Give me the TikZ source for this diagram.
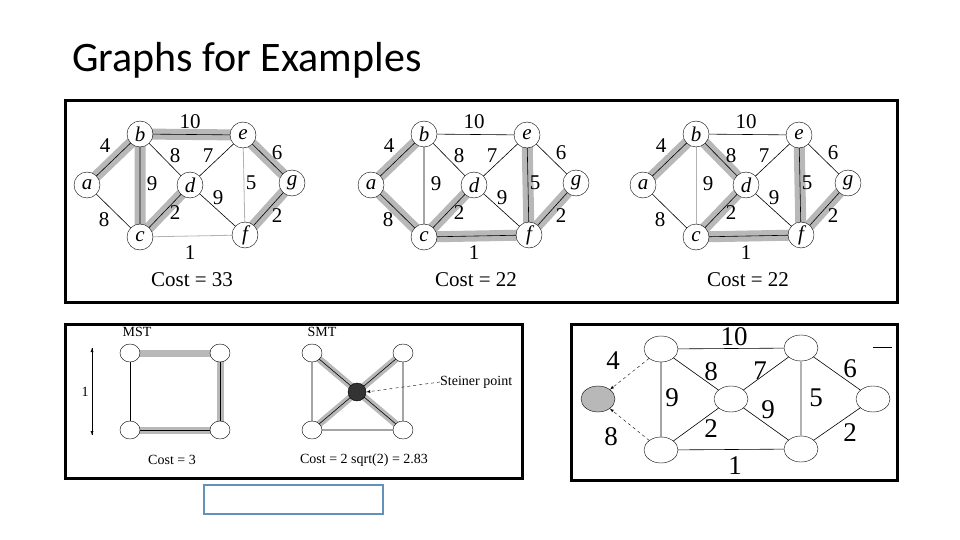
\documentclass[tikz,border=0pt]{standalone}
\usepackage{fontspec}
\usetikzlibrary{shapes.geometric}
\setmainfont{Liberation Serif}
\newfontfamily\titlefont{Carlito}
\begin{document}
\begin{tikzpicture}[x=1pt,y=-1pt,
  vtx/.style={circle,draw,fill=white,inner sep=0pt,minimum size=26pt,font=\fontsize{21}{21}\selectfont\itshape},
  ed/.style={draw,line width=0.6pt},
  lite/.style={draw=black!30,line width=0.8pt},
  hl/.style={draw=black!28,line width=11pt},
  lab/.style={font=\fontsize{21}{21}\selectfont,inner sep=0pt},
  frame/.style={draw,line width=3pt},
  ov/.style={ellipse,draw,fill=white,inner sep=0pt,minimum width=20pt,minimum height=18pt},
  ov2/.style={ellipse,draw,fill=white,inner sep=0pt,minimum width=34pt,minimum height=26pt},
  small/.style={font=\fontsize{14}{14}\selectfont,inner sep=0pt},
  big/.style={font=\fontsize{27}{27}\selectfont,inner sep=0pt}]
\useasboundingbox (0,0) rectangle (960,540);
\node[anchor=west,inner sep=0pt,font=\titlefont\fontsize{42}{42}\selectfont] (title) at (72,60) {Graphs for Examples};
\draw[frame] (65,101) rectangle (897,302);
\draw[frame] (65,324) rectangle (522,478);
\draw[frame] (571,324) rectangle (897,480);
\draw[draw={rgb,255:red,100;green,145;blue,185},line width=1.5pt] (204,485) rectangle (383,514);
% three graphs
\foreach \o/\k in {0/1,284/2,556/3}{
\begin{scope}[xshift=\o pt]
 \coordinate (a\k) at (87,185); \coordinate (b\k) at (140,134); \coordinate (e\k) at (243,135);
 \coordinate (d\k) at (190,185); \coordinate (g\k) at (292,183); \coordinate (c\k) at (140,237);
 \coordinate (f\k) at (245,235);
\end{scope}}
% highlights
\draw[hl,line cap=round] (a1)--(b1) (b1)--(e1) (b1)--(c1)--(d1) (e1)--(g1)--(f1);
\draw[hl,line cap=round] (b2)--(a2)--(c2)--(d2) (c2)--(f2)--(e2) (f2)--(g2);
\draw[hl,line cap=round] (a3)--(b3)--(d3)--(c3)--(f3)--(e3) (f3)--(g3);
% edges
\draw[ed] (a1)--(b1) (a1)--(c1) (b1)--(c1) (b1)--(e1) (b1)--(d1) (d1)--(e1) (c1)--(d1) (d1)--(f1) (e1)--(g1) (f1)--(g1);
\draw[lite] (e1)--(f1) (c1)--(f1);
\draw[ed] (a2)--(b2) (a2)--(c2) (b2)--(c2) (b2)--(e2) (b2)--(d2) (d2)--(e2) (c2)--(d2) (d2)--(f2) (e2)--(g2) (f2)--(g2) (e2)--(f2) (c2)--(f2);
\draw[ed] (a3)--(b3) (a3)--(c3) (b3)--(e3) (b3)--(d3) (d3)--(e3) (c3)--(d3) (d3)--(f3) (e3)--(g3) (f3)--(g3) (e3)--(f3) (c3)--(f3);
\draw[lite] (b3)--(c3);
\foreach \o/\k/\cst in {0/1/33,284/2/22,556/3/22}{
\begin{scope}[xshift=\o pt]
 \foreach \n in {a,b,c,d,e,f,g} \node[vtx] (\n\k n) at (\n\k) {\n};
 \node[lab] (l4\k) at (105,146) {4};
 \node[lab] (l10\k) at (190,122) {10};
 \node[lab] (l8a\k) at (175,156) {8};
 \node[lab] (l7\k) at (208,156) {7};
 \node[lab] (l9a\k) at (152,184) {9};
 \node[lab] (l5\k) at (251,183) {5};
 \node[lab] (l6\k) at (277,153) {6};
 \node[lab] (l9b\k) at (218,198) {9};
 \node[lab] (l2a\k) at (175,213) {2};
 \node[lab] (l2b\k) at (277,216) {2};
 \node[lab] (l8b\k) at (104,220) {8};
 \node[lab] (l1\k) at (190,253) {1};
 \node[lab] (cost\k) at (192,280) {Cost = \cst};
\end{scope}}
% MST
\coordinate (m1) at (130,353); \coordinate (m2) at (220,353); \coordinate (m3) at (130,430); \coordinate (m4) at (220,430);
\draw[hl,line width=7pt] (m1)--(m2)--(m4)--(m3);
\draw[ed] (m1)--(m3) (m2)--(m4)--(m3);
\foreach \i in {1,2,3,4} \node[ov] (mn\i) at (m\i) {};
\node[small] (mstl) at (137,332) {MST};
\coordinate (ar1) at (92,348); \coordinate (ar2) at (92,435);
\draw[->,>=latex] (ar1)--(ar2); \draw[->,>=latex] (ar2)--(ar1);
\node[small] (one) at (85,392) {1};
\node[small] (mcost) at (172,460) {Cost = 3};
% SMT
\coordinate (s1) at (312,353); \coordinate (s2) at (403,353); \coordinate (s3) at (312,430); \coordinate (s4) at (403,430); \coordinate (sp) at (357,392);
\draw[hl,line width=7pt] (s1)--(s4) (s2)--(s3);
\draw[ed] (s1)--(s4) (s2)--(s3) (s1)--(s3)--(s4)--(s2);
\foreach \i in {1,2,3,4} \node[ov] (sn\i) at (s\i) {};
\node[circle,fill=black!80,draw,minimum size=18pt,inner sep=0pt] (spn) at (sp) {};
\node[small] (smtl) at (322,332) {SMT};
\node[small,anchor=west] (stl) at (440,382) {Steiner point};
\draw[dashed,->,>=latex] (stl.west)--(spn.east);
\node[small] (scost) at (364,460) {Cost = 2 sqrt(2) = 2.83};
% bottom right graph
\node[ov2,fill=black!28] (G) at (598,399) {};
\node[ov2] (B) at (661,349) {};
\node[ov2] (E) at (801,348) {};
\node[ov2] (D) at (731,399) {};
\node[ov2] (Gg) at (873,399) {};
\node[ov2] (C) at (661,450) {};
\node[ov2] (F) at (801,449) {};
\draw[ed] (B)--(E) (B)--(D) (D)--(E) (B)--(C) (C)--(D) (D)--(F) (E)--(Gg) (F)--(Gg) (C)--(F);
\draw[lite,line width=1.5pt] (E)--(F);
\draw[dashed,->,>=latex] (B)--(G);
\draw[dashed,->,>=latex] (C)--(G);
\coordinate (t1) at (873,347); \coordinate (t2) at (892,347);
\draw[ed] (t1)--(t2);
\node[big] (r10) at (734,337) {10};
\node[big] (r8a) at (711,372) {8};
\node[big] (r7) at (760,371) {7};
\node[big] (r9a) at (672,398) {9};
\node[big] (r2a) at (711,429) {2};
\node[big] (r9b) at (768,410) {9};
\node[big] (r5) at (816,398) {5};
\node[big] (r6) at (850,369) {6};
\node[big] (r2b) at (850,433) {2};
\node[big] (r1) at (735,466) {1};
\node[big] (r4) at (613,361) {4};
\node[big] (r8b) at (611,437) {8};
\end{tikzpicture}
\end{document}
